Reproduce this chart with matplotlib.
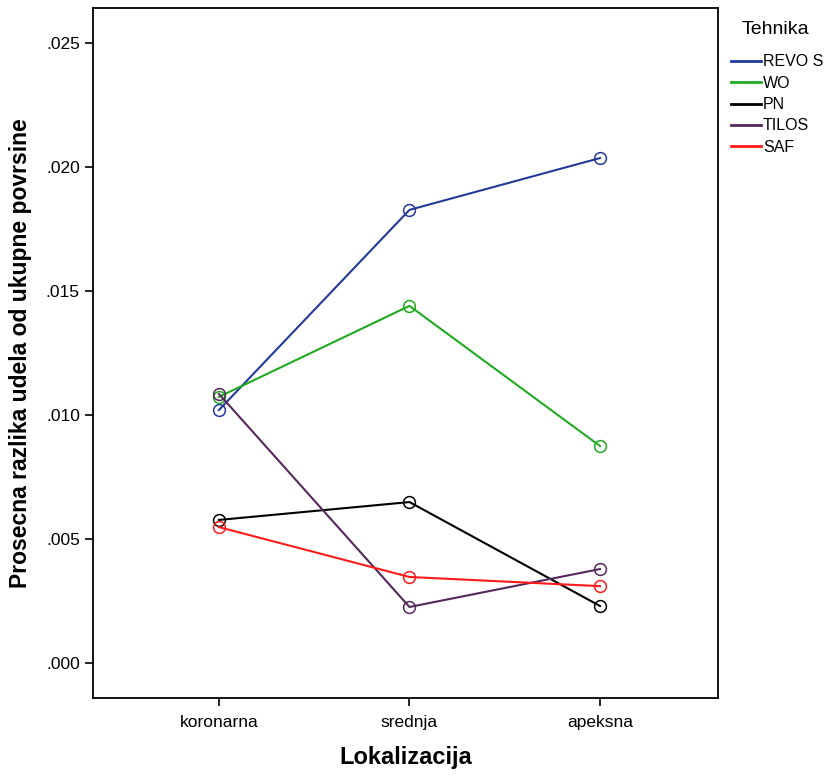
import matplotlib.pyplot as plt
from matplotlib.ticker import FuncFormatter

plt.rcParams['font.family'] = ['Liberation Sans', 'DejaVu Sans']

lokalizacija = ['koronarna', 'srednja', 'apeksna']
tehnike = ['REVO S', 'WO', 'PN', 'TILOS', 'SAF']
revo_s = [0.01020, 0.01827, 0.02036]
wo = [0.01073, 0.01440, 0.00875]
pn = [0.00577, 0.00649, 0.00230]
tilos = [0.01085, 0.00226, 0.00379]
saf = [0.00548, 0.00347, 0.00310]
boje = ['#24399a', '#1faa1f', '#000000', '#55285a', '#ff1a1a']

fig = plt.figure(figsize=(8.28, 7.76), dpi=100)
ax = fig.add_axes([0.1123, 0.1005, 0.7548, 0.8892])

x = range(len(lokalizacija))
for name, vals, c in zip(tehnike, [revo_s, wo, pn, tilos, saf], boje):
    ax.plot(x, vals, color=c, lw=1.5, marker='o', ms=8.5, mfc='none',
            mec=c, mew=1.1, label=name)

ax.set_xlim(-0.661, 2.619)
ax.set_ylim(-0.00141, 0.02641)
ax.set_yticks([0, 0.005, 0.010, 0.015, 0.020, 0.025])
ax.yaxis.set_major_formatter(FuncFormatter(lambda v, p: ('%.3f' % v).lstrip('0')))
ax.set_xticks(list(x))
ax.set_xticklabels(lokalizacija)
ax.tick_params(axis='both', direction='out', length=6, width=1.2, labelsize=12.5)
ax.tick_params(axis='x', pad=6)
for s in ax.spines.values():
    s.set_linewidth(1.3)

ax.set_xlabel('Lokalizacija', fontsize=17, fontweight='bold', labelpad=12)
ax.set_ylabel('Prosecna razlika udela od ukupne povrsine', fontsize=16.5,
              fontweight='bold', labelpad=10)

# legend title drawn separately so it sits where SPSS puts it
fig.text(775 / 828, 1 - 30 / 776, 'Tehnika', fontsize=14, ha='center', va='center')
leg = fig.legend(loc='upper left', bbox_to_anchor=(0.883, 0.930),
                 frameon=False, fontsize=11.5,
                 handlelength=1.9, handletextpad=0.1, labelspacing=0.4,
                 borderaxespad=0, borderpad=0)
for h in leg.get_lines():
    h.set_marker('')
    h.set_linewidth(2)

fig.savefig('out.png', dpi=100)
